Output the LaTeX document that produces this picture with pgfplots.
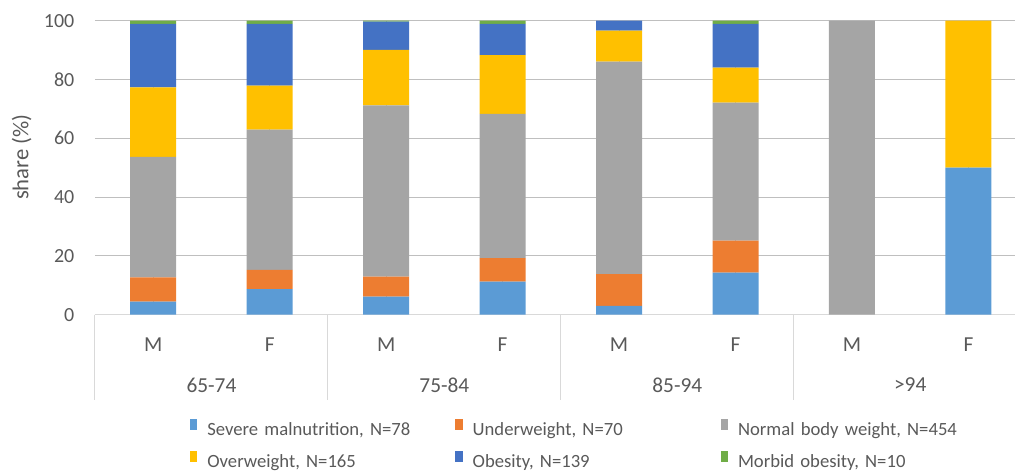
\documentclass[border=0pt]{standalone}
\usepackage{pgfplots}
\pgfplotsset{compat=1.18}
\usepackage{fontspec}
\setmainfont{Carlito}
\usetikzlibrary{calc}

\definecolor{cSM}{HTML}{5B9BD5}
\definecolor{cUW}{HTML}{ED7D31}
\definecolor{cNW}{HTML}{A5A5A5}
\definecolor{cOW}{HTML}{FFC000}
\definecolor{cOB}{HTML}{4472C4}
\definecolor{cMO}{HTML}{70AD47}
\definecolor{txt}{HTML}{595959}
\definecolor{grid}{HTML}{D9D9D9}

% share (%) of each BMI class per sex and age group
% x: 0=65-74 M, 1=65-74 F, 2=75-84 M, 3=75-84 F, 4=85-94 M, 5=85-94 F, 6=>94 M, 7=>94 F
\pgfplotstableread{
x  SM    UW    NW     OW    OB    MO
0  4.4   8.3   41.0   23.6  21.6  1.1
1  8.7   6.5   47.7   15.0  21.0  1.1
2  6.1   6.8   58.3   18.9  9.6   0.3
3  11.2  8.0   49.1   20.0  10.6  1.1
4  3.0   10.8  72.3   10.5  3.4   0.0
5  14.3  10.9  46.9   11.9  14.9  1.1
6  0.0   0.0   100.0  0.0   0.0   0.0
7  50.0  0.0   0.0    50.0  0.0   0.0
}\shares

\tikzset{grouplabel/.style={text=txt, anchor=center, font=\fontsize{16pt}{19pt}\selectfont}}

\begin{document}
\begin{tikzpicture}
\begin{axis}[
  scale only axis,
  width=690pt, height=220.5pt,
  ybar stacked,
  bar width=34.5pt,
  xmin=-0.5, xmax=7.4,
  ymin=0, ymax=100,
  ytick={0,20,...,100},
  xtick={0,...,7},
  xticklabels={M,F,M,F,M,F,M,F},
  major tick length=0pt,
  axis x line*=bottom,
  axis y line*=left,
  x axis line style={grid, line width=0.75pt, -},
  y axis line style={draw=none},
  ymajorgrids,
  grid style={grid, line width=0.75pt},
  clip=false,
  font=\fontsize{15pt}{18pt}\selectfont,
  /pgf/number format/assume math mode=true,
  ticklabel style={text=txt},
  yticklabel style={anchor=east, xshift=-12pt},
  xticklabel style={anchor=center, yshift=-22.5pt, font=\fontsize{16pt}{19pt}\selectfont},
  ylabel={share (\%)},
  ylabel style={at={(axis description cs:-0.0797,0.536)}, anchor=center, text=txt,
                font=\fontsize{17pt}{20pt}\selectfont},
  legend columns=3,
  legend cell align=left,
  legend image code/.code={\fill[#1] (0pt,0.4pt) rectangle (5.5pt,8.8pt);},
  legend style={
    draw=none, fill=none, inner sep=0pt, outer sep=0pt,
    at={(axis description cs:0,0)}, anchor=north west,
    xshift=71.25pt, yshift=-78pt,
    font=\fontsize{14pt}{17pt}\selectfont, text=txt,
    row sep=8.75pt,
    nodes={inner sep=0pt, text height=10pt, text depth=3pt},
    /tikz/every odd column/.append style={column sep=7.5pt},
    /tikz/every even column/.append style={text width=186pt},
  },
]
\addplot[fill=cSM, draw=none] table[x=x, y=SM] {\shares};
\addlegendentry{Severe malnutrition, N=78}
\addplot[fill=cUW, draw=none] table[x=x, y=UW] {\shares};
\addlegendentry{Underweight, N=70}
\addplot[fill=cNW, draw=none] table[x=x, y=NW] {\shares};
\addlegendentry{Normal body weight, N=454}
\addplot[fill=cOW, draw=none] table[x=x, y=OW] {\shares};
\addlegendentry{Overweight, N=165}
\addplot[fill=cOB, draw=none] table[x=x, y=OB] {\shares};
\addlegendentry{Obesity, N=139}
\addplot[fill=cMO, draw=none] table[x=x, y=MO] {\shares};
\addlegendentry{Morbid obesity, N=10}

% age-group dividers and labels below the axis
\pgfplotsinvokeforeach{-0.5,1.5,3.5,5.5}{
  \draw[grid, line width=0.75pt] (axis cs:#1,0) -- ++(0pt,-64pt);
}
\node[grouplabel] at ($(axis cs:0.5,0)+(0pt,-52.7pt)$) {65-74};
\node[grouplabel] at ($(axis cs:2.5,0)+(0pt,-52.7pt)$) {75-84};
\node[grouplabel] at ($(axis cs:4.5,0)+(0pt,-52.7pt)$) {85-94};
\node[grouplabel] at ($(axis cs:6.5,0)+(0pt,-52.7pt)$) {>94};
\end{axis}
\pgfresetboundingbox
\path[use as bounding box] ($(current axis.south west)+(-71.25pt,-120.2pt)$)
  rectangle ($(current axis.north east)+(0pt,15.5pt)$);
\end{tikzpicture}
\end{document}
